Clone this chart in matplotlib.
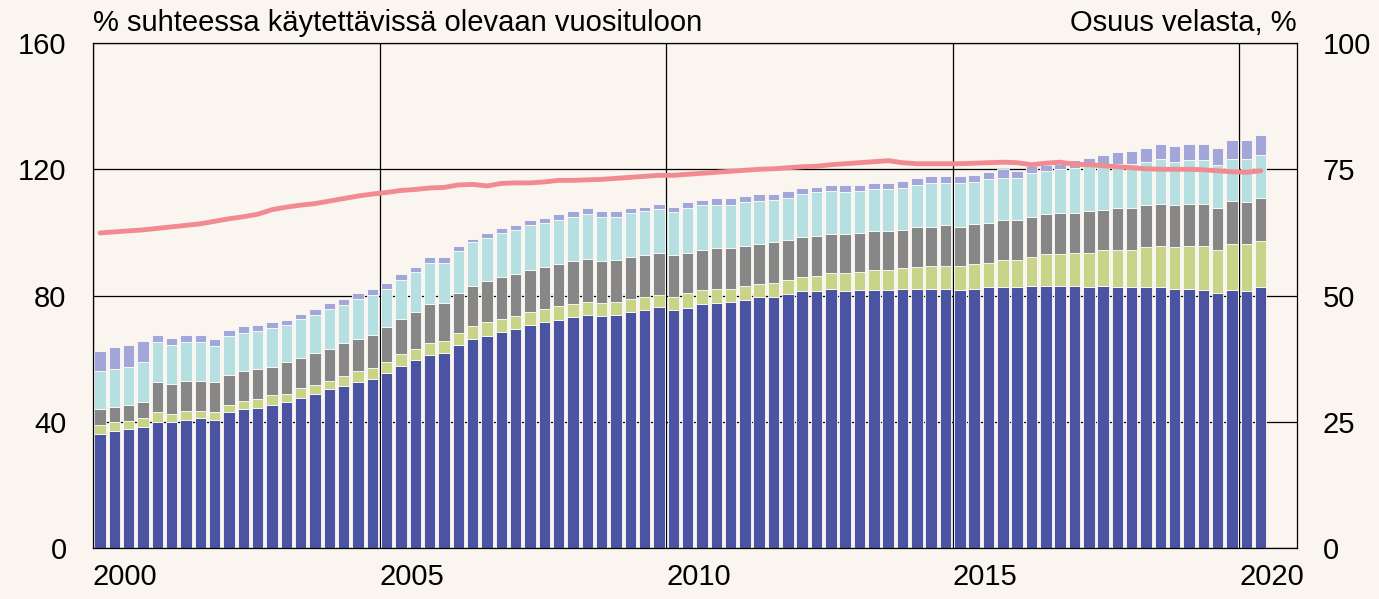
import numpy as np
import pandas as pd
import matplotlib
matplotlib.use('Agg')
import matplotlib.pyplot as plt

plt.rcParams['font.family'] = ['Liberation Sans', 'DejaVu Sans']

# quarters 2000Q1 - 2020Q2
quarters = pd.period_range('2000Q1', '2020Q2', freq='Q')

# stacked segments, % of annual disposable income
seg_blue = [36.2, 37.2, 37.6, 38.4, 39.8, 39.8, 40.7, 41.2, 40.7, 43.0, 43.9, 44.4,
            45.3, 46.2, 47.5, 48.9, 50.3, 51.2, 52.5, 53.5, 55.3, 57.7, 59.5, 61.3,
            61.7, 64.4, 66.2, 67.1, 68.4, 69.4, 70.8, 71.7, 72.2, 73.1, 73.9, 73.5,
            73.9, 74.9, 75.3, 76.3, 75.3, 76.2, 77.2, 77.6, 78.1, 78.5, 79.4, 79.4,
            80.4, 81.3, 81.3, 82.2, 81.3, 81.7, 81.7, 81.7, 82.2, 82.2, 82.2, 82.2,
            81.7, 82.2, 82.6, 82.6, 82.6, 83.1, 83.1, 83.1, 83.1, 82.6, 83.1, 82.6,
            82.6, 82.6, 82.6, 82.2, 82.2, 81.7, 80.8, 81.7, 81.3, 82.6]
seg_green = [2.8, 2.6, 2.6, 2.8, 3.2, 2.8, 2.7, 2.2, 2.3, 2.2, 2.7, 2.7,
             3.2, 2.7, 3.2, 2.7, 2.7, 3.2, 3.7, 3.6, 3.7, 3.7, 3.6, 3.6,
             4.0, 3.6, 4.1, 4.6, 4.2, 4.1, 4.1, 4.0, 4.5, 4.1, 4.2, 4.0,
             4.2, 4.1, 4.1, 4.0, 4.1, 4.6, 4.5, 4.6, 4.1, 4.6, 4.1, 4.6,
             4.5, 4.5, 5.0, 4.9, 5.8, 5.9, 6.4, 6.4, 6.4, 6.8, 7.3, 7.3,
             7.8, 7.7, 7.7, 8.7, 8.7, 9.0, 9.9, 9.9, 10.4, 10.9, 11.3, 11.8,
             11.8, 12.8, 13.2, 13.2, 13.6, 14.1, 13.6, 14.5, 14.9, 14.6]
seg_gray = [4.9, 5.0, 5.0, 5.0, 9.5, 9.5, 9.6, 9.6, 9.5, 9.6, 9.6, 9.5,
            9.0, 10.0, 9.6, 10.1, 10.1, 10.5, 10.0, 10.5, 10.9, 11.2, 11.8, 12.3,
            11.9, 12.8, 12.8, 12.8, 13.2, 13.2, 13.2, 13.2, 13.2, 13.6, 13.6, 13.3,
            13.2, 13.2, 13.3, 13.3, 13.3, 12.8, 12.7, 12.8, 12.8, 12.7, 12.8, 12.8,
            12.8, 12.7, 12.7, 12.4, 12.4, 12.3, 12.3, 12.3, 12.3, 12.8, 12.3, 12.8,
            12.3, 12.8, 12.8, 12.7, 12.7, 12.8, 12.8, 13.3, 12.8, 13.2, 12.8, 13.2,
            13.2, 13.2, 13.2, 13.2, 13.2, 13.2, 13.2, 13.8, 13.3, 13.6]
seg_cyan = [12.3, 11.8, 12.3, 12.7, 12.8, 12.3, 12.3, 12.3, 11.4, 12.3, 11.8, 12.0,
            12.3, 11.8, 12.3, 12.2, 12.6, 12.2, 12.8, 12.7, 12.3, 12.3, 12.7, 13.1,
            12.7, 13.2, 13.7, 13.6, 14.1, 14.2, 14.2, 14.2, 14.1, 14.2, 14.1, 14.2,
            13.7, 14.1, 14.1, 13.7, 13.7, 14.0, 14.2, 13.6, 13.6, 13.8, 13.7, 13.6,
            13.1, 13.8, 13.7, 13.6, 13.2, 13.2, 13.2, 13.2, 13.2, 13.2, 13.8, 13.3,
            13.8, 13.2, 13.7, 13.2, 13.2, 13.8, 13.7, 13.8, 14.1, 14.3, 14.2, 14.2,
            14.2, 13.7, 14.2, 13.7, 13.8, 13.8, 13.8, 13.2, 13.7, 13.7]
seg_lav = [6.3, 7.0, 6.9, 6.8, 2.3, 2.2, 2.3, 2.3, 2.3, 1.9, 2.2, 2.2,
           1.9, 1.5, 1.7, 1.8, 1.8, 1.8, 1.8, 1.9, 1.8, 1.8, 1.3, 1.8,
           1.8, 1.8, 1.2, 1.8, 1.4, 1.4, 1.7, 1.4, 1.8, 1.8, 1.8, 1.8,
           1.8, 1.3, 1.4, 1.7, 1.8, 2.0, 1.8, 2.2, 2.2, 1.8, 2.3, 1.9,
           2.3, 1.8, 1.8, 1.9, 2.3, 1.9, 1.9, 1.9, 2.3, 2.2, 2.2, 2.2,
           2.2, 2.2, 2.3, 2.9, 2.3, 2.3, 1.9, 1.7, 2.4, 2.6, 3.1, 3.6,
           4.1, 4.4, 4.9, 5.0, 5.3, 5.3, 5.3, 6.0, 6.0, 6.4]

# share of debt, % (right axis)
share = [62.4, 62.6, 62.8, 63.0, 63.3, 63.6, 63.9, 64.2, 64.7, 65.2, 65.6, 66.1,
         67.0, 67.5, 67.9, 68.2, 68.7, 69.2, 69.7, 70.1, 70.4, 70.8, 71.0, 71.3,
         71.4, 71.9, 72.0, 71.7, 72.2, 72.3, 72.3, 72.5, 72.8, 72.8, 72.9, 73.0,
         73.2, 73.4, 73.6, 73.8, 73.8, 74.0, 74.2, 74.4, 74.6, 74.8, 75.0, 75.1,
         75.3, 75.5, 75.6, 75.9, 76.1, 76.3, 76.5, 76.7, 76.3, 76.1, 76.1, 76.1,
         76.1, 76.2, 76.3, 76.4, 76.3, 75.9, 76.2, 76.4, 76.0, 75.9, 75.7, 75.5,
         75.3, 75.1, 75.0, 75.0, 75.0, 74.9, 74.7, 74.5, 74.4, 74.7]

colors = ['#4b53a3', '#c8d589', '#878787', '#b5dfe1', '#a3a6d8']
bg = '#faf5ef'

x = np.array([q.year + (q.quarter - 0.5) / 4 for q in quarters])

fig = plt.figure(figsize=(13.79, 5.99), dpi=100, facecolor=bg)
ax = fig.add_axes([0.0674, 0.0851, 0.8728, 0.8431])
ax.set_facecolor(bg)

bottom = np.zeros(len(x))
for seg, c in zip([seg_blue, seg_green, seg_gray, seg_cyan, seg_lav], colors):
    ax.bar(x, seg, bottom=bottom, width=0.2, color=c, edgecolor='#fdfbf8',
           linewidth=0.6, zorder=2)
    bottom += np.array(seg)

ax.set_xlim(2000, 2021)
ax.set_ylim(0, 160)
ax.set_yticks([0, 40, 80, 120, 160])
ax.set_xticks([2000, 2005, 2010, 2015, 2020])
ax.set_xticklabels(['2000', '2005', '2010', '2015', '2020'], ha='left')
ax.grid(True, color='black', linewidth=0.9, zorder=0)
ax.set_axisbelow(True)
ax.tick_params(axis='both', length=0, labelsize=21)
ax.tick_params(axis='y', pad=19)
ax.tick_params(axis='x', pad=11)
for s in ax.spines.values():
    s.set_linewidth(0.9)

ax2 = ax.twinx()
ax2.plot(x, share, color='#f28b91', linewidth=3.5, solid_capstyle='round', zorder=3)
ax2.set_ylim(0, 100)
ax2.set_yticks([0, 25, 50, 75, 100])
ax2.tick_params(axis='y', length=0, labelsize=21, pad=19)
for s in ax2.spines.values():
    s.set_visible(False)

ax.annotate('% suhteessa käytettävissä olevaan vuosituloon', xy=(0, 1),
            xycoords='axes fraction', xytext=(0, 4), textcoords='offset points',
            ha='left', va='bottom', fontsize=21)
ax.annotate('Osuus velasta, %', xy=(1, 1),
            xycoords='axes fraction', xytext=(0, 4), textcoords='offset points',
            ha='right', va='bottom', fontsize=21)

fig.savefig('out.png', dpi=100, facecolor=bg)
